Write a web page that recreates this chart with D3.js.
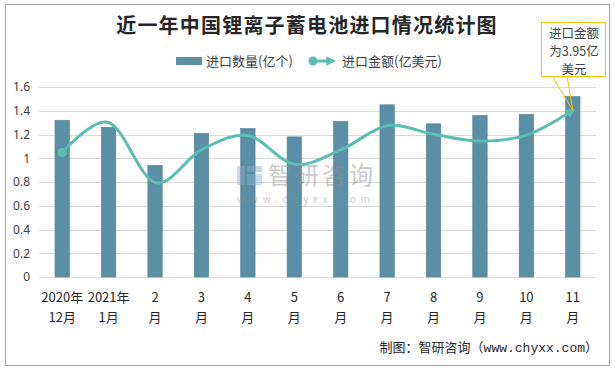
<!DOCTYPE html>
<html><head><meta charset="utf-8">
<script src="https://cdn.jsdelivr.net/npm/d3@7/dist/d3.min.js"></script>
<style>
body{margin:0;background:#fff;}
svg{display:block;}
text{font-family:"Noto Sans CJK SC","Noto Sans",sans-serif;}
</style></head>
<body>
<script>
const categories = ["2020年|12月","2021年|1月","2|月","3|月","4|月","5|月","6|月","7|月","8|月","9|月","10|月","11|月"];
const quantity = [1.32,1.26,0.94,1.21,1.25,1.18,1.31,1.45,1.29,1.36,1.37,1.52];   // 亿个
const amount = [2.95,3.66,2.24,3.01,3.35,2.67,3.01,3.58,3.38,3.22,3.36,3.95];      // 亿美元
const yTicks = [0,0.2,0.4,0.6,0.8,1,1.2,1.4,1.6];
const title = "近一年中国锂离子蓄电池进口情况统计图";
const legendLabels = ["进口数量(亿个)","进口金额(亿美元)"];
const calloutLines = ["进口金额","为3.95亿","美元"];
const sourceText = "制图：智研咨询（www.chyxx.com）";

const W=615,H=369;
const svg=d3.select("body").append("svg").attr("width",W).attr("height",H);

// outer frame
svg.append("rect").attr("x",5.5).attr("y",4.5).attr("width",604).attr("height",361)
  .attr("fill","#fff").attr("stroke","#A6A6A6").attr("stroke-width",1);

const plot={left:39,right:596,top:87,bottom:277};
const x=d3.scaleBand().domain(categories).range([plot.left,plot.right]).paddingInner(0.69).paddingOuter(0.345);
const y=d3.scaleLinear().domain([0,1.6]).range([plot.bottom,plot.top]);
const y2=d3.scaleLinear().domain([0,4.5]).range([plot.bottom,plot.top]);

// gridlines
svg.append("g").selectAll("line").data(yTicks).join("line")
  .attr("x1",plot.left).attr("x2",plot.right)
  .attr("y1",d=>Math.round(y(d))+0.5).attr("y2",d=>Math.round(y(d))+0.5)
  .attr("stroke","#D9D9D9").attr("stroke-width",1);

// y axis labels
const yAxis=d3.axisLeft(y).tickValues(yTicks).tickSize(0).tickPadding(0).tickFormat(d3.format(""));
const ya=svg.append("g").attr("transform","translate(30,0)").call(yAxis);
ya.select(".domain").remove();
ya.selectAll("text").attr("fill","#404040").attr("font-size",12).style("font-family","'Noto Sans','Noto Sans CJK SC',sans-serif");

// bars
svg.append("g").selectAll("rect").data(quantity).join("rect")
  .attr("x",(d,i)=>x(categories[i])).attr("width",x.bandwidth())
  .attr("y",d=>y(d)).attr("height",d=>y(0)-y(d))
  .attr("fill","#5B8FA5").attr("stroke","#4E8198").attr("stroke-width",0.6);

// x axis labels
const xa=svg.append("g");
categories.forEach(c=>{
  const parts=c.split("|");
  const cx=x(c)+x.bandwidth()/2;
  const t=xa.append("text").attr("text-anchor","middle").attr("fill","#262626").attr("font-size",13);
  t.append("tspan").attr("x",cx).attr("y",302).text(parts[0]);
  t.append("tspan").attr("x",cx).attr("y",322).text(parts[1]);
});

// watermark
const wm=svg.append("g").attr("opacity",0.45);
wm.append("rect").attr("x",237).attr("y",166).attr("width",8).attr("height",19).attr("fill","#8FA9CC");
wm.append("rect").attr("x",247).attr("y",166).attr("width",15).attr("height",6).attr("fill","#8FA9CC");
wm.append("rect").attr("x",247).attr("y",174).attr("width",15).attr("height",11).attr("fill","#7FB8E0");
wm.append("text").attr("x",268).attr("y",184).attr("font-size",24).attr("fill","#8C8C8C").attr("letter-spacing",3).text("智研咨询");
wm.append("text").attr("x",237).attr("y",203).attr("font-size",10).attr("fill","#8C8C8C").attr("letter-spacing",4.8).text("www.chyxx.com");

// line
const lineColor="#5BBDB3";
const defs=svg.append("defs");
defs.append("marker").attr("id","arr").attr("viewBox","0 0 10 10").attr("refX",7).attr("refY",5)
  .attr("markerWidth",3.2).attr("markerHeight",3.2).attr("orient","auto")
  .append("path").attr("d","M0,0 L10,5 L0,10 Z").attr("fill",lineColor);
const pts=amount.map((v,i)=>[x(categories[i])+x.bandwidth()/2,y2(v)]);
const line=d3.line().curve(d3.curveCatmullRom.alpha(0));
svg.append("path").attr("d",line(pts)).attr("fill","none").attr("stroke",lineColor)
  .attr("stroke-width",3).attr("stroke-linecap","round").attr("marker-end","url(#arr)");
svg.append("circle").attr("cx",pts[0][0]).attr("cy",pts[0][1]).attr("r",4.5).attr("fill",lineColor);

// title
svg.append("text").attr("x",307).attr("y",33).attr("text-anchor","middle").attr("font-size",20)
  .attr("font-weight","bold").attr("fill","#262626").attr("letter-spacing",1.2).text(title);

// legend
svg.append("rect").attr("x",176).attr("y",57).attr("width",26).attr("height",8).attr("fill","#5B8FA5");
svg.append("text").attr("x",206).attr("y",65.5).attr("font-size",13).attr("fill","#404040").text(legendLabels[0]);
svg.append("line").attr("x1",313).attr("x2",333).attr("y1",61).attr("y2",61).attr("stroke",lineColor).attr("stroke-width",3).attr("marker-end","url(#arr)");
svg.append("circle").attr("cx",313).attr("cy",61).attr("r",4.5).attr("fill",lineColor);
svg.append("text").attr("x",342).attr("y",65.5).attr("font-size",13).attr("fill","#404040").text(legendLabels[1]);

// callout
const last=pts[pts.length-1];
svg.append("line").attr("x1",552).attr("y1",76).attr("x2",last[0]).attr("y2",last[1]).attr("stroke","#FFC000").attr("stroke-width",1);
svg.append("line").attr("x1",567).attr("y1",76).attr("x2",last[0]).attr("y2",last[1]).attr("stroke","#FFC000").attr("stroke-width",1);
svg.append("rect").attr("x",541.5).attr("y",22.5).attr("width",64).attr("height",54).attr("fill","#fff").attr("stroke","#FFC000").attr("stroke-width",1);
calloutLines.forEach((s,i)=>{
  svg.append("text").attr("x",574).attr("y",38+i*18).attr("text-anchor","middle").attr("font-size",12.5).attr("fill","#404040").text(s);
});

// source
svg.append("text").attr("x",598).attr("y",352).attr("text-anchor","end").attr("font-size",13)
  .attr("fill","#262626").style("font-family","'Liberation Mono','Noto Sans CJK SC',monospace").text(sourceText);
</script>
</body></html>
